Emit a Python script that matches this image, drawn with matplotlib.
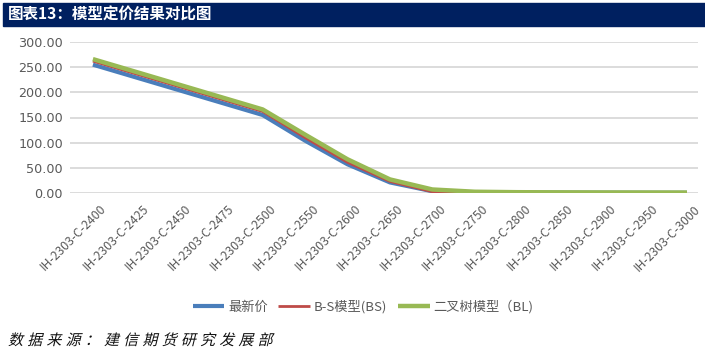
import matplotlib.pyplot as plt
from matplotlib.patches import Rectangle, PathPatch
from matplotlib.textpath import TextPath
from matplotlib.font_manager import FontProperties
from matplotlib.transforms import Affine2D, ScaledTranslation

plt.rcParams['font.family'] = ['Noto Sans CJK SC', 'DejaVu Sans']

strikes = ['2400', '2425', '2450', '2475', '2500', '2550', '2600', '2650',
           '2700', '2750', '2800', '2850', '2900', '2950', '3000']
labels = ['IH-2303-C-' + s for s in strikes]

latest = [255, 230, 205, 180, 155, 104, 57, 21, 3.5, 1.5, 1.0, 0.8, 0.6, 0.5, 0.4]
bs = [262, 237, 212, 187, 162, 110, 61, 23, 2.5, 1.2, 1.0, 0.8, 0.7, 0.6, 0.5]
bl = [266, 241, 216, 191, 166, 116, 67, 27, 7, 2.5, 1.6, 1.3, 1.1, 1.0, 0.9]

W, H = 705, 355
fig = plt.figure(figsize=(W / 100, H / 100), dpi=100)

# title bar
fig.patches.append(Rectangle((3 / W, 1 - 26 / H), 1, 23 / H, transform=fig.transFigure,
                             color='#002060', zorder=0))
fig.text(8 / W, 1 - 14.5 / H, '图表13：模型定价结果对比图', color='white', fontsize=11.2,
         fontweight='bold', va='center', ha='left')

ax = fig.add_axes([70 / W, 1 - 193 / H, 628 / W, 151 / H])
x = list(range(len(labels)))
ax.plot(x, latest, color='#4A7EBB', lw=3, label='最新价', solid_capstyle='butt')
ax.plot(x, bs, color='#BE4B48', lw=2, label='B-S模型(BS)', solid_capstyle='butt')
ax.plot(x, bl, color='#98B954', lw=3.2, label='二叉树模型（BL)', solid_capstyle='butt')

ax.set_xlim(-0.54, 14.26)
ax.set_ylim(0, 300)
ax.set_yticks([0, 50, 100, 150, 200, 250, 300])
ax.set_yticklabels(['%.2f' % v for v in ax.get_yticks()])
ax.grid(axis='y', color='#D9D9D9', lw=1.3)
ax.set_axisbelow(True)
for s in ax.spines.values():
    s.set_visible(False)
ax.tick_params(axis='y', length=0, pad=5, labelsize=9.2, labelcolor='#595959')
ax.tick_params(axis='x', length=0, pad=4, labelsize=8.8, labelcolor='#595959')
ax.set_xticks(x)
ax.set_xticklabels(labels, rotation=45, ha='right', rotation_mode='anchor')
shift = ScaledTranslation(0.07, -0.04, fig.dpi_scale_trans)
for t in ax.get_xticklabels():
    t.set_transform(t.get_transform() + shift)
for t in ax.get_yticklabels():
    t.set_family('DejaVu Sans')

leg = fig.legend(loc='center', bbox_to_anchor=(0.515, 1 - 307 / H), ncol=3, frameon=False,
                 fontsize=9.5, handlelength=2.4, columnspacing=0.8, handletextpad=0.3)
for t in leg.get_texts():
    t.set_color('#595959')

# source note: slanted, widely spaced characters drawn as paths in pixel units
src = '数据来源：建信期货研究发展部'
fp = FontProperties(family='Noto Sans CJK SC', weight='light')
pix = Affine2D().scale(1 / W, 1 / H) + fig.transFigure
for i, ch in enumerate(src):
    tp = TextPath((0, 0), ch, size=15, prop=fp)
    tr = Affine2D().skew_deg(14, 0).translate(8 + i * 19.2, H - 345) + pix
    fig.patches.append(PathPatch(tp, transform=tr, color='#111111', lw=0))

fig.savefig('out.png', dpi=100)
